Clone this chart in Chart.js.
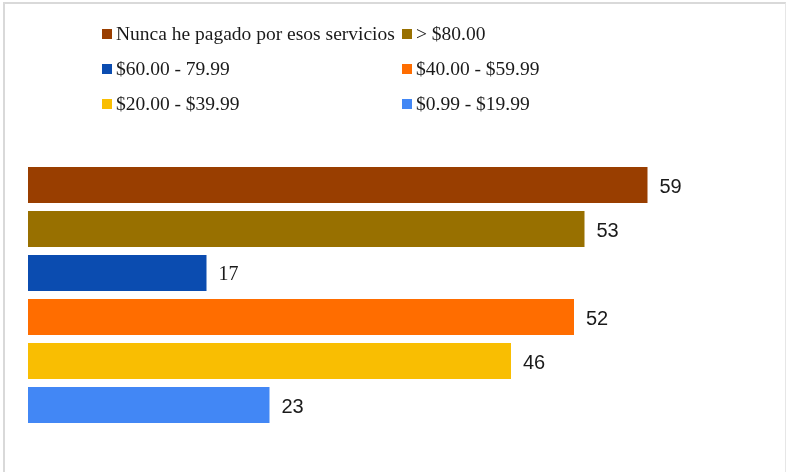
<!DOCTYPE html>
<html>
<head>
<meta charset="utf-8">
<script src="https://cdn.jsdelivr.net/npm/chart.js@4.4.1/dist/chart.umd.min.js"></script>
<style>
    body {
        margin: 0;
        background: #fff;
    }

    .frame {
        position: absolute;
        left: 3px;
        top: 2px;
        width: 780px;
        height: 480px;
        border-left: 2px solid #d9d9d9;
        border-top: 2px solid #d9d9d9;
        border-right: 1px solid #e6e6e6;
    }

    #salesChart {
        position: absolute;
        left: 0;
        top: 0;
    }

    .legend {
        position: absolute;
        left: 102px;
        top: 16px;
        display: grid;
        grid-template-columns: 300px auto;
        grid-auto-rows: 35px;
        font-family: "Liberation Serif", "Times New Roman", serif;
        font-size: 19.5px;
        color: #1a1a1a;
    }

    .legend-item {
        display: flex;
        align-items: center;
        white-space: nowrap;
    }

    .legend-box {
        width: 10px;
        height: 10px;
        margin-right: 4px;
        flex: none;
    }
</style>
</head>
<body>

<div class="frame"></div>
<canvas id="salesChart" width="786" height="472"></canvas>
<div class="legend" id="legend"></div>

<script>
/* Chart Data */

const categories = [""];

const seriesLabels = [
    "Nunca he pagado por esos servicios",
    "> $80.00",
    "$60.00 - 79.99",
    "$40.00 - $59.99",
    "$20.00 - $39.99",
    "$0.99 - $19.99"
];

const seriesValues = [59, 53, 17, 52, 46, 23];

const xTicks = [0, 70];


/* Styles */

const barColors = ["#993E00", "#987000", "#0B4CB0", "#FF6D00", "#F9BE02", "#4287F5"];

const valueFonts = [
    "Liberation Sans", "Liberation Sans", "Liberation Serif",
    "Liberation Sans", "Liberation Sans", "Liberation Sans"
];


/* Value labels at bar ends */

const valueLabels = {

    id: "valueLabels",

    afterDatasetsDraw(chart) {

        const ctx = chart.ctx;

        ctx.save();
        ctx.fillStyle = "#1a1a1a";
        ctx.textBaseline = "middle";
        ctx.textAlign = "left";

        chart.data.datasets.forEach((dataset, i) => {

            const bar = chart.getDatasetMeta(i).data[0];

            ctx.font = "20px '" + valueFonts[i] + "'";
            ctx.fillText(dataset.data[0], bar.x + 12, bar.y + 2);

        });

        ctx.restore();

    }

};


/* Create Chart */

const ctx = document.getElementById("salesChart");

const salesChart = new Chart(ctx, {

    type: "bar",

    data: {

        labels: categories,

        datasets: seriesLabels.map((label, i) => ({

            label: label,

            data: [seriesValues[i]],

            backgroundColor: barColors[i],

            categoryPercentage: 1,

            barPercentage: 0.82

        }))

    },

    options: {

        indexAxis: "y",

        responsive: false,

        animation: false,

        layout: {
            padding: { left: 28, right: 23, top: 163, bottom: 45 }
        },

        scales: {

            x: {
                display: false,
                min: xTicks[0],
                max: xTicks[1]
            },

            y: {
                display: false
            }

        },

        plugins: {

            legend: {
                display: false
            },

            tooltip: {
                enabled: false
            }

        }

    },

    plugins: [valueLabels]

});


/* Legend */

const legendEl = document.getElementById("legend");

salesChart.data.datasets.forEach(dataset => {

    const item = document.createElement("div");
    item.className = "legend-item";

    const box = document.createElement("span");
    box.className = "legend-box";
    box.style.background = dataset.backgroundColor;

    const text = document.createElement("span");
    text.textContent = dataset.label;

    item.appendChild(box);
    item.appendChild(text);
    legendEl.appendChild(item);

});
</script>

</body>
</html>
